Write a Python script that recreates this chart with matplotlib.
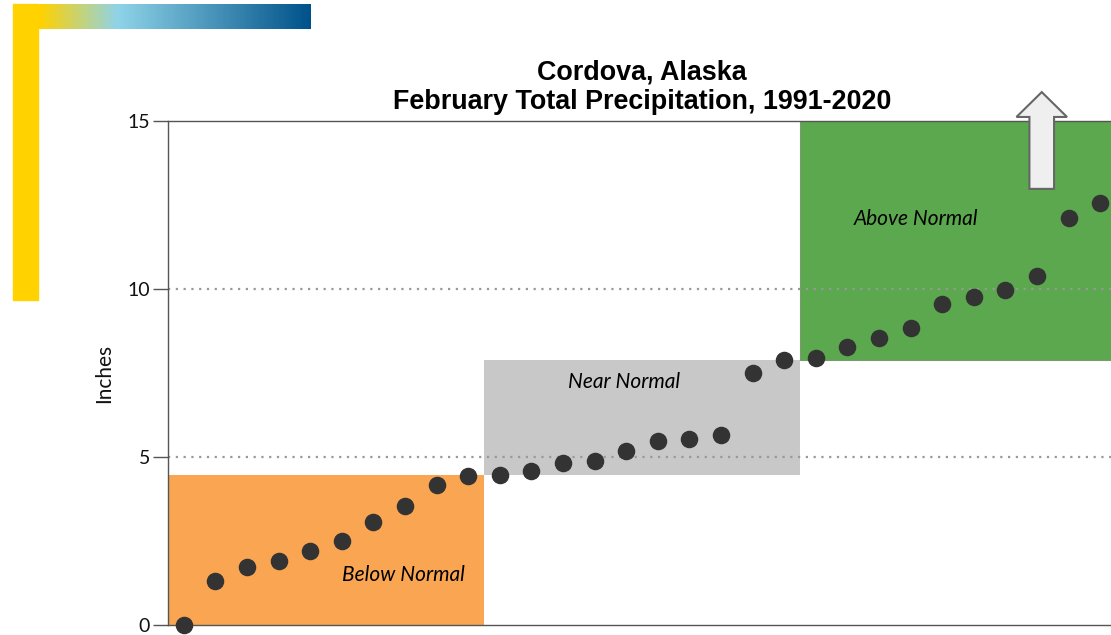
import numpy as np
import matplotlib
matplotlib.use("Agg")
import matplotlib.pyplot as plt
from matplotlib.patches import Rectangle, FancyArrow
from matplotlib.colors import LinearSegmentedColormap

# February totals, sorted ascending (inches)
precip = [0.00, 1.31, 1.73, 1.90, 2.20, 2.50, 3.07, 3.54, 4.17, 4.43,
          4.46, 4.58, 4.82, 4.88, 5.18, 5.48, 5.54, 5.65, 7.50, 7.89,
          7.95, 8.27, 8.54, 8.84, 9.55, 9.76, 9.97, 10.39, 12.11, 12.56]
y_ticks = [0, 5, 10, 15]
terciles = [4.45, 7.90]
band_labels = ["Below Normal", "Near Normal", "Above Normal"]

fig = plt.figure(figsize=(11.11, 6.35), dpi=100)

# slide decoration: gradient bar + yellow bar
grad = LinearSegmentedColormap.from_list(
    "slide", [(0, "#ffd200"), (0.09, "#ffd200"), (0.35, "#8fd4e8"), (1, "#00528a")])
bar_ax = fig.add_axes([13 / 1111, 1 - 29 / 635, 297 / 1111, 25 / 635])
bar_ax.imshow(np.linspace(0, 1, 300)[None, :], cmap=grad, aspect="auto")
bar_ax.axis("off")
fig.patches.append(Rectangle((13 / 1111, 1 - 300 / 635), 25 / 1111, 296 / 635,
                             transform=fig.transFigure, color="#ffd200", zorder=3))

ax = fig.add_axes([168 / 1111, 10 / 635, 948 / 1111, 504 / 635])
n = len(precip)
x = np.arange(n)

ax.add_patch(Rectangle((-0.5, 0), 10, terciles[0], color="#f9a552", lw=0, zorder=1))
ax.add_patch(Rectangle((9.5, terciles[0]), 10, terciles[1] - terciles[0],
                       color="#c8c8c8", lw=0, zorder=1))
ax.add_patch(Rectangle((19.5, terciles[1]), 10, 15 - terciles[1],
                       facecolor="#5ba84e", edgecolor="#7a9a70", lw=0.8, zorder=1))

for yv in [5, 10]:
    ax.axhline(yv, color="#999999", ls=(0, (1, 2.5)), lw=1.6, zorder=2)

ax.scatter(x, precip, s=135, color="#333333", zorder=4, clip_on=False)

ax.text(6.96, 1.49, band_labels[0], style="italic", fontsize=15, family="Lato",
        ha="center", va="center", zorder=3)
ax.text(13.92, 7.23, band_labels[1], style="italic", fontsize=15, family="Lato",
        ha="center", va="center", zorder=3)
ax.text(23.16, 12.08, band_labels[2], style="italic", fontsize=15, family="Lato",
        ha="center", va="center", zorder=3)

ax.add_patch(FancyArrow(27.15, 12.98, 0, 2.88, width=0.78, head_width=1.6,
                        head_length=0.74, length_includes_head=True,
                        facecolor="#efefef", edgecolor="#666666", lw=1.5,
                        clip_on=False, zorder=5))

ax.set_xlim(-0.5, n - 0.5)
ax.set_ylim(0, 15)
ax.set_yticks(y_ticks)
ax.set_xticks([])
ax.tick_params(axis="y", length=11, width=1, color="#555555", labelsize=14,
               labelcolor="#111111", pad=2)
for lab in ax.get_yticklabels():
    lab.set_family("Lato")
for sp in ax.spines.values():
    sp.set_color("#555555")
    sp.set_linewidth(1)

fig.text(104 / 1111, 1 - 373 / 635, "Inches", rotation=90, ha="center",
         va="center", fontsize=15, family="Lato", color="#111111")

fig.text(642 / 1111, 1 - 72 / 635, "Cordova, Alaska", ha="center", va="center",
         fontsize=19.4, fontweight="bold", family="Liberation Sans")
fig.text(642 / 1111, 1 - 102 / 635, "February Total Precipitation, 1991-2020",
         ha="center", va="center", fontsize=19.4, fontweight="bold",
         family="Liberation Sans")

fig.savefig("out.png", dpi=100)
